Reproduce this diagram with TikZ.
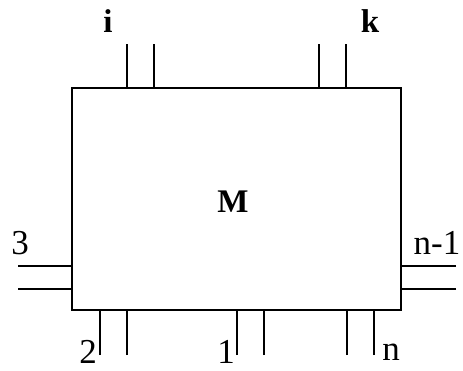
\documentclass[tikz,border=0pt]{standalone}
\usepackage{fontspec}
\setmainfont{Liberation Serif}
\begin{document}
\begin{tikzpicture}[x=1pt,y=-1pt,
  leg/.style={line width=1.4pt},
  lab/.style={font=\fontsize{35}{35}\selectfont, inner sep=0pt},
  blab/.style={font=\fontsize{33}{33}\selectfont\bfseries, inner sep=0pt}]
\useasboundingbox (0,0) rectangle (463,370);
\node[draw, line width=1.4pt, minimum width=329pt, minimum height=222pt, inner sep=0pt] (box) at (236.5,199) {};
\node[blab] (M) at (233,202) {M};
% top legs
\foreach \n/\x in {ia/127,ib/154,ka/319,kb/346}{
  \coordinate (\n) at (\x,44);
  \draw[leg] (\n) -- (\n |- box.north);
}
% bottom legs
\foreach \n/\x in {ta/100,tb/127,oa/237,ob/264,na/347,nb/374}{
  \coordinate (\n) at (\x,355);
  \draw[leg] (\n) -- (\n |- box.south);
}
% left legs
\foreach \n/\y in {la/266,lb/289}{
  \coordinate (\n) at (18,\y);
  \draw[leg] (\n) -- (\n -| box.west);
}
% right legs
\foreach \n/\y in {ra/266,rb/289}{
  \coordinate (\n) at (456,\y);
  \draw[leg] (\n) -- (\n -| box.east);
}
\node[blab] (li) at (108,21) {i};
\node[blab] (lk) at (370,21) {k};
\node[lab] (l3) at (20,243) {3};
\node[lab] (ln1) at (437,243) {n-1};
\node[lab] (l2) at (88,352) {2};
\node[lab] (l1) at (226,352) {1};
\node[lab] (ln) at (391,352) {n};
\end{tikzpicture}
\end{document}
